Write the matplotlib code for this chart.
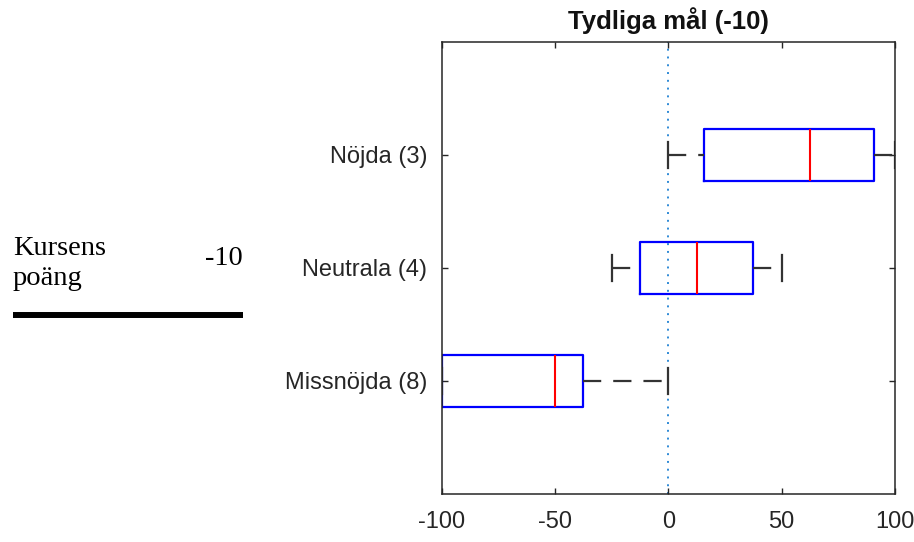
import matplotlib
matplotlib.use("Agg")
import matplotlib.pyplot as plt
from matplotlib.lines import Line2D

# Data: one box per group (bottom to top)
grupper = ["Missnöjda (8)", "Neutrala (4)", "Nöjda (3)"]
whislo = [-100, -25, 0]
q1 = [-100, -12.5, 15.625]
median = [-50, 12.5, 62.5]
q3 = [-37.5, 37.5, 90.625]
whishi = [0, 50, 100]
xticks = [-100, -50, 0, 50, 100]
titel = "Tydliga mål (-10)"
poang = "-10"

stats = []
for i in range(len(grupper)):
    stats.append(dict(label=grupper[i], whislo=whislo[i], q1=q1[i], med=median[i],
                      q3=q3[i], whishi=whishi[i], fliers=[]))

plt.rcParams['font.family'] = ['Liberation Sans', 'DejaVu Sans']

fig = plt.figure(figsize=(9.14, 5.42), dpi=100)
ax = fig.add_axes([441.7/914, 48/542, 453.3/914, 452.3/542])

textfarg = '#262626'

# nollinje
ax.axvline(0, color='#2f8ad6', lw=1.4, linestyle=(0, (1, 3.0)), zorder=1)

pos = list(range(1, len(grupper) + 1))
bp = ax.bxp(stats, positions=pos, widths=0.46, vert=False, showfliers=False,
            boxprops=dict(color='#0000FF', lw=1.6),
            medianprops=dict(color='#FF0000', lw=1.5),
            whiskerprops=dict(color='#333333', lw=1.6, linestyle=(0, (8.2, 5.4))),
            capprops=dict(color='#333333', lw=1.6))

# MATLAB ritar nedre morrhår från ändpunkten mot lådan
for w in bp['whiskers'][0::2]:
    x, y = w.get_data()
    w.set_data(x[::-1], y[::-1])

ax.set_xlim(-100, 100)
ax.set_ylim(0, 4)
ax.set_xticks(xticks)
ax.set_xticklabels([str(t) for t in xticks])
ax.set_yticks(pos)
ax.set_yticklabels(grupper)

ax.tick_params(axis='both', direction='in', length=4.5, width=1, colors=textfarg,
               labelsize=17, top=True, right=True)
ax.tick_params(axis='y', pad=10.5)
ax.tick_params(axis='x', pad=12.5)
for s in ax.spines.values():
    s.set_color(textfarg)
    s.set_linewidth(1.1)

ax.set_title(titel, fontsize=18.5, fontweight='bold', color='#111111', pad=9.5)

# text till vänster
serif = ['Liberation Serif', 'DejaVu Serif']
fig.text(13/914, 1 - 255/542, "Kursens", family=serif, fontsize=20.5, va='baseline', ha='left')
fig.text(13/914, 1 - 285/542, "poäng", family=serif, fontsize=20.5, va='baseline', ha='left')
fig.text(243/914, 1 - 265/542, poang, family=serif, fontsize=20.5, va='baseline', ha='right')
fig.add_artist(Line2D([13.3/914, 242.7/914], [1 - 314.7/542, 1 - 314.7/542],
                      transform=fig.transFigure, color='black', lw=4.3, solid_capstyle='butt'))

fig.savefig("out.png", dpi=100)
